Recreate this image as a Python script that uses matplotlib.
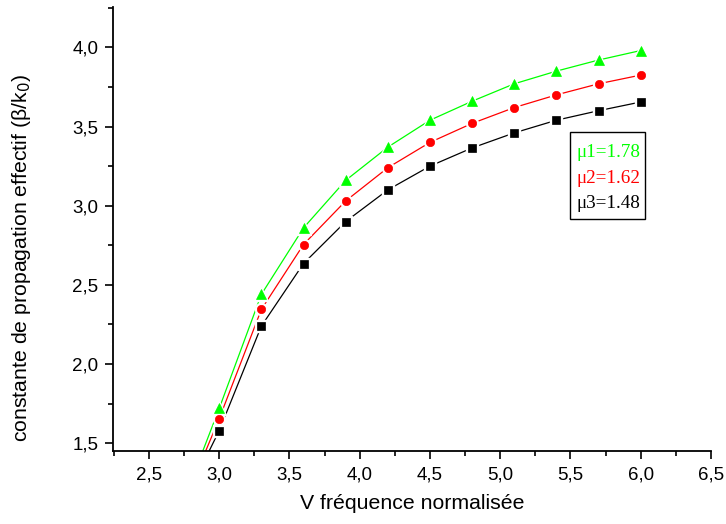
import matplotlib
matplotlib.use("Agg")
import matplotlib.pyplot as plt
from matplotlib.ticker import MultipleLocator, FuncFormatter
from matplotlib.patches import Rectangle

V = [2.7, 3.0, 3.3, 3.6, 3.9, 4.2, 4.5, 4.8, 5.1, 5.4, 5.7, 6.0]
mu1 = [1.03, 1.72, 2.44, 2.86, 3.16, 3.37, 3.54, 3.66, 3.77, 3.85, 3.92, 3.98]
mu2 = [1.02, 1.655, 2.345, 2.755, 3.03, 3.24, 3.40, 3.52, 3.62, 3.70, 3.77, 3.825]
mu3 = [1.04, 1.58, 2.24, 2.635, 2.90, 3.10, 3.25, 3.365, 3.46, 3.54, 3.60, 3.655]
labels = ["\u03bc1=1.78", "\u03bc2=1.62", "\u03bc3=1.48"]

plt.rcParams['font.family'] = ['Liberation Sans', 'DejaVu Sans']

fig = plt.figure(figsize=(7.26, 5.24), dpi=100)
ax = fig.add_axes([113/726, 1-451/524, (711-113)/726, (451-7.3)/524])

series = [(mu1, '#00ff00', '^', 7.5), (mu2, '#ff0000', 'o', 6.0), (mu3, 'black', 's', 5.6)]
for y, c, m, ms in series:
    ax.plot(V, y, color=c, lw=0.9, zorder=2, clip_on=True)
    ax.plot(V, y, ls='none', marker=m, ms=ms + 2.6, color='white', mec='white', zorder=3)
    ax.plot(V, y, ls='none', marker=m, ms=ms, color=c, mec=c, mew=0.5, zorder=4)

ax.set_xlim(2.244, 6.5)
ax.set_ylim(1.451, 4.253)
ax.xaxis.set_major_locator(MultipleLocator(0.5))
ax.xaxis.set_minor_locator(MultipleLocator(0.25))
ax.yaxis.set_major_locator(MultipleLocator(0.5))
ax.yaxis.set_minor_locator(MultipleLocator(0.25))
fmt = FuncFormatter(lambda v, p: f"{v:.1f}".replace('.', ','))
ax.xaxis.set_major_formatter(fmt)
ax.yaxis.set_major_formatter(fmt)

for s in ['top', 'right']:
    ax.spines[s].set_visible(False)
for s in ['left', 'bottom']:
    ax.spines[s].set_linewidth(1.3)
ax.tick_params(which='major', direction='out', length=6, width=1.2, labelsize=13.5)
ax.tick_params(axis='x', which='major', pad=5.5)
ax.tick_params(axis='y', which='major', pad=4.5)
ax.tick_params(which='minor', direction='out', length=3.5, width=1.2)

ax.set_xlabel("V fréquence normalisée", fontsize=15.3)
ax.set_ylabel("constante de propagation effectif (\u03b2/k$_0$)", fontsize=15.3)
ax.xaxis.set_label_coords(0.5, (451-494)/(451-7.3), transform=ax.transAxes)
ax.yaxis.set_label_coords((33-113)/(711-113), (451-258)/(451-7.3), transform=ax.transAxes)

box = Rectangle((570/726, 1-219/524), (645-570)/726, (219-131.7)/524,
                transform=fig.transFigure, fill=False, ec='black', lw=1.0)
fig.add_artist(box)
for lab, (y, c, m, ms), py in zip(labels, series, [152.3, 178.3, 203.3]):
    fig.text(576/726, 1-py/524, lab, color=c, fontsize=13.8, family='Liberation Serif',
             va='center', ha='left')

fig.savefig("out.png", dpi=100)
